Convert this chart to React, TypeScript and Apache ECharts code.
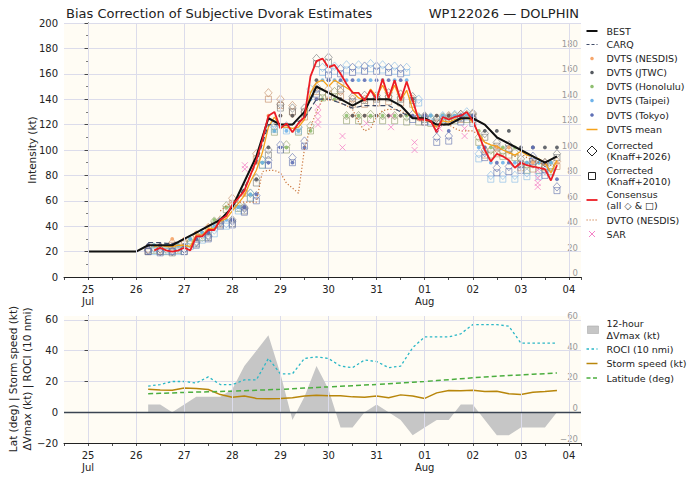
import React, { useEffect, useRef } from "react";
import * as echarts from "echarts";

// ---------- tick labels ----------
const dayTicks = [0, 1, 2, 3, 4, 5, 6, 7, 8, 9, 10]; // days after 25 Jul 00Z
const dayLabels = ["25\nJul", "26", "27", "28", "29", "30", "31", "01\nAug", "02", "03", "04"];
const intensityTicks = [0, 20, 40, 60, 80, 100, 120, 140, 160, 180];
const envTicks = [-20, 0, 20, 40, 60];

// ---------- intensity lines ----------
const bestStart = 0; // 6-hourly
const bestKt = [20, 20, 20, 20, 20, 25, 25, 25, 30, 35, 40, 45, 55, 75, 95, 125, 120, 120, 130, 150, 145, 140, 135, 140, 140, 140, 135, 125, 125, 120, 120, 125, 125, 120, 110, 105, 100, 95, 90, 95];
const carqStart = 1.25; // 6-hourly
const carqKt = [27, 27, 26, 30, 35, 40, 45, 55, 70, 90, 120, 120, 120, 125, 140, 140, 137, 133, 135, 135, 135, 130, 125, 125, 120, 120, 125, 125, 120, 110, 105, 100, 95, 90, 95];
const consStart = 1.375; // 3-hourly
const consensusKt = [21, 23, 21, 20, 21, 23, 21, 32, 32, 37, 37, 45, 48, 57, 62, 68, 80, 92, 108, 127, 130, 117, 121, 114, 121, 126, 158, 170, 172, 165, 167, 160, 152, 145, 145, 139, 147, 140, 156, 141, 155, 139, 154, 139, 124, 124, 123, 114, 126, 124, 126, 127, 130, 123, 112, 100, 91, 97, 95, 92, 86, 90, 88, 87, 86, 85, 76, 88];
const dvtsMeanKt = [24, 25, 24, 24, 25, 25, 24, 33, 33, 38, 38, 44, 46, 52, 58, 64, 75, 84, 98, 118, 126, 118, 118, 117, 118, 124, 145, 153, 155, 150, 155, 152, 149, 146, 141, 139, 148, 142, 151, 141, 151, 139, 147, 132, 126, 124, 122, 118, 123, 122, 124, 124, 126, 122, 113, 106, 104, 103, 100, 98, 96, 99, 96, 95, 93, 90, 82, 92];
const dvtoStart = 2.75; // 3-hourly
const dvtoKt = [52, 56, 59, 59, 59, 59, 59, 83, 84, 84, 82, 74, 70, 66, 101, 118, 130, 140, 140, 139, 137, 135, 132, 122, 115, 117, 126, 131, 132, 132, 131, 128, 126, 123, 123, 122, 120, 121, 120, 117, 115, 115, 115, 112, 106, 104, 102, 100, 98, 95, 97, 94, 92, 90, 88, 88, 88];
const sarDay = [3.26, 3.26, 4.78, 4.78, 4.78, 4.78, 5.29, 5.29, 5.79, 6.3, 6.3, 6.79, 6.79, 7.31, 7.83, 7.83, 9.35, 9.35, 9.35, 9.35];
const sarKt = [85, 88, 120, 124, 129, 134, 111, 102, 121, 118, 127, 106, 100, 117, 117, 111, 71, 74, 78, 84];

// ---------- agency fixes (6-hourly) ----------
const fixStartA = 1.25;
const fixStartB = 1.375;
const nesdisDvts = [25, 25, 30, 30, 35, 40, 45, 55, 65, 90, 127, 127, 127, 127, 140, 140, 140, 127, 127, 127, 127, 127, 127, 127, 127, 127, 127, 127, 102, 102, 102, 90, 90, 90, 90];
const nesdisK26 = [22, 22, 27, 28, 33, 39, 45, 62, 70, 97, 145, 140, 135, 130, 150, 148, 146, 140, 140, 141, 142, 141, 140, 126, 125, 127, 128, 128, 100, 101, 100, 90, 89, 90, 91];
const nesdisK10 = [20, 20, 25, 26, 31, 36, 42, 58, 66, 93, 140, 135, 130, 126, 146, 144, 142, 136, 136, 137, 138, 137, 136, 122, 121, 123, 124, 124, 96, 97, 96, 86, 85, 86, 87];
const jtwcDvts = [25, 25, 25, 25, 30, 35, 45, 45, 55, 77, 102, 127, 127, 127, 155, 155, 140, 127, 127, 127, 127, 127, 140, 127, 127, 127, 127, 127, 115, 115, 115, 102, 102, 102, 102];
const jtwcK26 = [21, 22, 20, 22, 28, 33, 44, 45, 55, 78, 100, 136, 133, 133, 172, 173, 152, 142, 143, 143, 145, 144, 142, 127, 125, 126, 128, 129, 113, 106, 104, 93, 92, 90, 97];
const jtwcK10 = [20, 20, 19, 20, 26, 31, 41, 42, 52, 74, 96, 133, 130, 130, 168, 169, 148, 138, 139, 140, 141, 140, 139, 124, 122, 123, 125, 126, 110, 103, 101, 89, 89, 87, 94];
const honoluluDvts = [25, 25, 25, 30, 35, 45, 55, 55, 65, 90, 115, 102, 115, 115, 140, 140, 127, 127, 127, 127, 127, 127, 127, 127, 127, 127, 127, 115, 102, 102, 102, 90, 90, 90];
const honoluluK26 = [23, 22, 23, 28, 33, 44, 56, 57, 66, 92, 118, 104, 118, 119, 145, 146, 127, 127, 128, 127, 127, 126, 126, 125, 126, 127, 128, 110, 100, 99, 98, 88, 88, 87];
const honoluluK10 = [21, 20, 21, 26, 31, 41, 53, 54, 62, 88, 114, 100, 114, 115, 141, 142, 123, 123, 124, 123, 123, 122, 122, 121, 122, 123, 124, 106, 96, 95, 94, 84, 84, 83];
const taipeiDvts = [25, 25, 25, 30, 35, 40, 45, 55, 65, 90, 115, 115, 115, 140, 155, 155, 155, 155, 155, 155, 155, 155, 127, 127, 127, 127, 127, 102, 90, 90, 90, 90, 90, 90];
const taipeiK26 = [22, 21, 22, 26, 31, 37, 42, 55, 66, 92, 120, 119, 118, 148, 165, 166, 167, 167, 168, 167, 166, 165, 140, 126, 127, 128, 130, 97, 80, 80, 80, 82, 82, 85];
const taipeiK10 = [20, 20, 20, 24, 29, 34, 40, 52, 62, 88, 116, 115, 115, 144, 161, 162, 163, 163, 164, 163, 162, 161, 137, 122, 124, 125, 126, 93, 77, 77, 77, 79, 79, 82];
const tokyoDvts = [25, 25, 25, 25, 30, 35, 45, 45, 55, 65, 90, 102, 90, 102, 140, 155, 155, 155, 155, 155, 155, 155, 127, 127, 115, 115, 127, 127, 102, 90, 90, 90, 102, 90, 77];
const tokyoK26 = [21, 20, 21, 22, 27, 32, 43, 44, 54, 64, 92, 104, 94, 107, 148, 163, 164, 165, 166, 166, 165, 164, 128, 126, 110, 111, 126, 125, 98, 86, 87, 88, 95, 84, 71];
const tokyoK10 = [20, 19, 20, 20, 25, 30, 40, 41, 51, 60, 88, 100, 90, 103, 144, 159, 160, 161, 162, 162, 161, 160, 124, 122, 106, 107, 122, 121, 94, 82, 83, 84, 91, 80, 68];

// ---------- environment panel (6-hourly) ----------
const envStart = 1.25;
const dVmax12h = [5, 5, 0, 5, 10, 10, 10, 15, 30, 40, 50, 25, -5, 10, 30, 15, -10, -10, 0, 5, 0, -5, -15, -10, -5, -5, 5, 5, -5, -15, -15, -10, -10, -10, 0];
const roci10nmi = [17, 18, 20, 20, 19, 23, 18, 18, 21, 21, 35, 25, 25, 35, 36, 35, 30, 29, 34, 33, 29, 30, 42, 49, 49, 49, 51, 57, 57, 57, 56, 45, 45, 45, 45];
const stormSpeedKt = [15, 14.5, 14.3, 15.8, 15.5, 14.8, 11.5, 9.8, 10.5, 9, 8.8, 9, 9.5, 10.5, 11, 10.8, 10.8, 10, 9.8, 10.5, 9.4, 11.3, 10.5, 9, 12.6, 14.1, 14, 14.3, 13.5, 13.7, 12, 11.5, 13, 13.5, 14.1];
const latitudeDeg = [12.0, 12.3, 12.6, 12.9, 13.1, 13.3, 13.5, 13.7, 14.0, 14.3, 14.6, 14.9, 15.3, 15.7, 16.1, 16.5, 16.9, 17.3, 17.7, 18.1, 18.5, 19.0, 19.5, 20.0, 20.6, 21.2, 21.8, 22.4, 22.9, 23.4, 23.9, 24.3, 24.7, 25.1, 25.5];

// ---------- styling ----------
const FONT = "DejaVu Sans";
const BG = "#fffcf4";
const GRIDC = "#dcdceb";
const C = {
  best: "#111111",
  carq: "#3f4b68",
  mean: "#f5a21b",
  cons: "#ec1c24",
  dvto: "#c9733a",
  sar: "#f484c8",
  roci: "#2ab7c6",
  speed: "#b8860b",
  lat: "#4cae3f",
  dv: "#c6c6c6",
};
const agencies = [
  { name: "NESDIS", start: fixStartA, dvts: nesdisDvts, k26: nesdisK26, k10: nesdisK10, dot: "#f6a66c", open: "#bf8660" },
  { name: "JTWC", start: fixStartA, dvts: jtwcDvts, k26: jtwcK26, k10: jtwcK10, dot: "#555a60", open: "#707478" },
  { name: "Honolulu", start: fixStartB, dvts: honoluluDvts, k26: honoluluK26, k10: honoluluK10, dot: "#8fbf70", open: "#8a9966" },
  { name: "Taipei", start: fixStartB, dvts: taipeiDvts, k26: taipeiK26, k10: taipeiK10, dot: "#6fb3ea", open: "#7fb6e6" },
  { name: "Tokyo", start: fixStartA, dvts: tokyoDvts, k26: tokyoK26, k10: tokyoK10, dot: "#5f70b6", open: "#5b6cad" },
];

const pairs = (start: number, step: number, vals: number[]) => vals.map((v, i) => [start + i * step, v]);

const dayFormatter = (v: number) => {
  const k = Math.round(v);
  if (Math.abs(v - k) > 1e-6) return "";
  const i = dayTicks.indexOf(k);
  return i >= 0 ? dayLabels[i] : "";
};
const numFmt = (v: number) => (v < 0 ? "\u2212" + Math.abs(v) : String(v));

function xAxis(gridIndex: number) {
  return {
    type: "value",
    gridIndex,
    min: -0.5,
    max: 10.25,
    interval: 0.5,
    axisLine: { show: true, onZero: false, lineStyle: { color: "#222", width: 1 } },
    axisTick: { show: true, length: 3, lineStyle: { color: "#222", width: 0.8 } },
    axisLabel: { show: true, fontSize: 10, color: "#222", fontFamily: FONT, margin: 6, lineHeight: 12.5, formatter: dayFormatter },
    splitLine: { show: false },
  };
}

function txt(x: number, y: number, text: string, o: any = {}) {
  return {
    type: "text",
    x,
    y,
    rotation: o.rotation || 0,
    silent: true,
    style: {
      text,
      fontSize: o.fontSize || 9.5,
      fontFamily: FONT,
      fill: o.fill || "#222",
      align: o.align || "left",
      textAlign: o.align || "left",
      verticalAlign: "middle",
      textVerticalAlign: "middle",
      lineHeight: o.lineHeight || 11.5,
    },
  };
}
function hline(y: number, color: string, width: number, dash?: number[]) {
  return { type: "line", silent: true, shape: { x1: 586.5, y1: y, x2: 597.5, y2: y }, style: { stroke: color, lineWidth: width, lineDash: dash || null } };
}

function legendGraphics() {
  const g: any[] = [];
  const tx = 606.5;
  const xm = 592;
  g.push(hline(31, C.best, 2), txt(tx, 31, "BEST"));
  g.push(hline(44.5, C.carq, 1.2, [3, 2]), txt(tx, 44.5, "CARQ"));
  const dotY = [58.5, 72.5, 86.5, 100.5, 115];
  agencies.forEach((a, i) => {
    g.push({ type: "circle", silent: true, shape: { cx: xm, cy: dotY[i], r: 1.8 }, style: { fill: a.dot } });
    g.push(txt(tx, dotY[i], "DVTS (" + a.name + ")"));
  });
  g.push(hline(129.5, C.mean, 1.5), txt(tx, 129.5, "DVTS mean"));
  g.push({ type: "polygon", silent: true, shape: { points: [[xm, 146], [xm + 5, 151], [xm, 156], [xm - 5, 151]] }, style: { fill: "none", stroke: "#222", lineWidth: 1 } });
  g.push(txt(tx, 151, "Corrected\n(Knaff+2026)"));
  g.push({ type: "rect", silent: true, shape: { x: xm - 3.5, y: 172.5, width: 7, height: 7 }, style: { fill: "none", stroke: "#222", lineWidth: 1 } });
  g.push(txt(tx, 176, "Corrected\n(Knaff+2010)"));
  g.push(hline(200, C.cons, 1.8), txt(tx, 200, "Consensus\n(all \u25c7 & \u25a1)"));
  g.push(hline(220, C.dvto, 1.2, [1.2, 1.8]), txt(tx, 220, "DVTO (NESDIS)"));
  g.push({ type: "line", silent: true, shape: { x1: xm - 3, y1: 231, x2: xm + 3, y2: 237 }, style: { stroke: C.sar, lineWidth: 1 } });
  g.push({ type: "line", silent: true, shape: { x1: xm - 3, y1: 237, x2: xm + 3, y2: 231 }, style: { stroke: C.sar, lineWidth: 1 } });
  g.push(txt(tx, 234, "SAR"));
  // lower legend
  g.push({ type: "rect", silent: true, shape: { x: 587.5, y: 326, width: 11, height: 7.5 }, style: { fill: C.dv, stroke: "#aaaaaa", lineWidth: 0.6 } });
  g.push(txt(tx, 329.5, "12-hour\n\u0394Vmax (kt)"));
  g.push(hline(349, C.roci, 1.3, [2.5, 2.5]), txt(tx, 349, "ROCI (10 nmi)"));
  g.push(hline(363.5, C.speed, 1.5), txt(tx, 363.5, "Storm speed (kt)"));
  g.push(hline(378, C.lat, 1.5, [4, 2.5]), txt(tx, 378, "Latitude (deg)"));
  return g;
}

function buildOption() {
  const series: any[] = [];
  // vertical grid lines
  series.push({
    type: "line", xAxisIndex: 0, yAxisIndex: 0, data: [], z: 1, silent: true,
    markLine: { silent: true, symbol: ["none", "none"], label: { show: false }, lineStyle: { color: GRIDC, width: 1, type: "solid" }, data: dayTicks.map((d) => ({ xAxis: d })) },
  });
  series.push({
    type: "line", xAxisIndex: 1, yAxisIndex: 2, data: [], z: 1, silent: true,
    markLine: { silent: true, symbol: ["none", "none"], label: { show: false }, lineStyle: { color: GRIDC, width: 1, type: "solid" }, data: dayTicks.map((d) => ({ xAxis: d })) },
  });
  // agency markers
  agencies.forEach((a) => {
    series.push({ type: "scatter", xAxisIndex: 0, yAxisIndex: 0, symbol: "rect", symbolSize: 6, silent: true, z: 2,
      itemStyle: { color: "rgba(0,0,0,0)", borderColor: a.open, borderWidth: 0.85, opacity: 0.7 }, data: pairs(a.start, 0.25, a.k10) });
    series.push({ type: "scatter", xAxisIndex: 0, yAxisIndex: 0, symbol: "diamond", symbolSize: [7.5, 8.5], silent: true, z: 2,
      itemStyle: { color: "rgba(0,0,0,0)", borderColor: a.open, borderWidth: 0.85, opacity: 0.7 }, data: pairs(a.start, 0.25, a.k26) });
  });
  agencies.forEach((a) => {
    series.push({ type: "scatter", xAxisIndex: 0, yAxisIndex: 0, symbol: "circle", symbolSize: 3.8, silent: true, z: 2,
      itemStyle: { color: a.dot, opacity: 0.9 }, data: pairs(a.start, 0.25, a.dvts) });
  });
  const line = (data: any, color: string, width: number, type: any = "solid", z = 3) => ({
    type: "line", xAxisIndex: 0, yAxisIndex: 0, data, showSymbol: false, symbol: "none", silent: true, z,
    lineStyle: { color, width, type }, clip: true,
  });
  series.push(line(pairs(dvtoStart, 0.125, dvtoKt), C.dvto, 1.2, [1.2, 2]));
  series.push(line(pairs(consStart, 0.125, dvtsMeanKt), C.mean, 1.3));
  series.push(line(pairs(carqStart, 0.25, carqKt), C.carq, 1.2, [5, 3]));
  series.push(line(pairs(bestStart, 0.25, bestKt), C.best, 2));
  series.push(line(pairs(consStart, 0.125, consensusKt), C.cons, 1.8));
  series.push({ type: "scatter", xAxisIndex: 0, yAxisIndex: 0, silent: true, z: 4,
    symbol: "path://M0,0L10,10M10,0L0,10", symbolSize: 6,
    itemStyle: { color: "none", borderColor: C.sar, borderWidth: 1 },
    data: sarDay.map((d, i) => [d, sarKt[i]]) });

  // lower panel
  const low = (data: any, color: string, width: number, type: any = "solid") => ({
    type: "line", xAxisIndex: 1, yAxisIndex: 2, data, showSymbol: false, symbol: "none", silent: true, z: 3,
    lineStyle: { color, width, type },
  });
  series.push({
    type: "line", xAxisIndex: 1, yAxisIndex: 2, data: pairs(envStart, 0.25, dVmax12h), showSymbol: false, symbol: "none", silent: true, z: 2,
    lineStyle: { width: 0, color: C.dv }, areaStyle: { color: C.dv, opacity: 1, origin: "auto" },
    markLine: { silent: true, symbol: ["none", "none"], label: { show: false }, lineStyle: { color: "#3a4452", width: 1.3, type: "solid" }, data: [{ yAxis: 0 }], z: 5 },
  });
  series.push(low(pairs(envStart, 0.25, roci10nmi), C.roci, 1.3, [2.5, 2.5]));
  series.push(low(pairs(envStart, 0.25, stormSpeedKt), C.speed, 1.5));
  series.push(low(pairs(envStart, 0.25, latitudeDeg), C.lat, 1.5, [5, 3]));

  const graphic: any[] = [
    txt(66, 13, "Bias Correction of Subjective Dvorak Estimates", { fontSize: 13 }),
    txt(579, 13, "WP122026 \u2014 DOLPHIN", { fontSize: 13, align: "right" }),
    txt(32, 150, "Intensity (kt)", { fontSize: 10.5, rotation: Math.PI / 2, align: "center" }),
    txt(20, 379, "Lat (deg) | Storm speed (kt)\n\u0394Vmax (kt) | ROCI (10 nmi)", { fontSize: 10.5, rotation: Math.PI / 2, align: "center", lineHeight: 14 }),
    ...legendGraphics(),
  ];

  return {
    animation: false,
    backgroundColor: "#ffffff",
    textStyle: { fontFamily: FONT },
    grid: [
      { left: 64, top: 23, width: 517, height: 254, show: true, backgroundColor: BG, borderWidth: 0 },
      { left: 64, top: 316, width: 517, height: 127, show: true, backgroundColor: BG, borderWidth: 0 },
    ],
    xAxis: [xAxis(0), xAxis(1)],
    yAxis: [
      {
        type: "value", gridIndex: 0, min: 0, max: 200, interval: 20, position: "left",
        axisLine: { show: true, lineStyle: { color: "#222", width: 1 } },
        axisTick: { show: true, length: 3.5, lineStyle: { color: "#222", width: 0.8 } },
        minorTick: { show: true, splitNumber: 2, length: 2, lineStyle: { color: "#222", width: 0.6 } },
        axisLabel: { fontSize: 10, color: "#222", fontFamily: FONT, margin: 6 },
        splitLine: { show: true, lineStyle: { color: GRIDC, width: 1 } },
      },
      {
        type: "value", gridIndex: 0, min: -3.1, max: 196.5, position: "right",
        axisLine: { show: false }, axisTick: { show: false, customValues: intensityTicks },
        axisLabel: { inside: true, fontSize: 8.5, color: "#9a9a9a", fontFamily: FONT, margin: 3, customValues: intensityTicks, formatter: numFmt },
        splitLine: { show: false },
      },
      {
        type: "value", gridIndex: 1, min: -20, max: 62.6, interval: 20, position: "left",
        axisLine: { show: true, lineStyle: { color: "#222", width: 1 } },
        axisTick: { show: true, length: 3.5, lineStyle: { color: "#222", width: 0.8 }, customValues: envTicks },
        axisLabel: { fontSize: 10, color: "#222", fontFamily: FONT, margin: 6, customValues: envTicks, formatter: numFmt },
        splitLine: { show: true, lineStyle: { color: GRIDC, width: 1 } },
      },
      {
        type: "value", gridIndex: 1, min: -22.9, max: 60, position: "right",
        axisLine: { show: false }, axisTick: { show: false, customValues: envTicks },
        axisLabel: { inside: true, fontSize: 8.5, color: "#9a9a9a", fontFamily: FONT, margin: 3, customValues: envTicks, formatter: numFmt },
        splitLine: { show: false },
      },
    ],
    series,
    graphic,
  };
}

export default function App() {
  const ref = useRef<HTMLDivElement>(null);
  useEffect(() => {
    const chart = echarts.init(ref.current as HTMLDivElement, null, { renderer: "svg" });
    chart.setOption(buildOption() as any);
    return () => chart.dispose();
  }, []);
  return <div ref={ref} style={{ position: "fixed", left: 0, top: 0, width: 699, height: 481, background: "#fff" }} />;
}
